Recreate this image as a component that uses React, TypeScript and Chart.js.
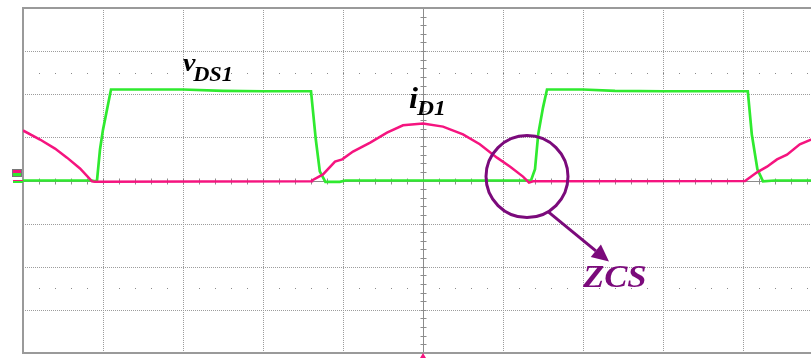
import React, { useEffect, useRef } from "react";
import { Chart, registerables } from "chart.js";

Chart.register(...registerables);

// Time axis in divisions (10 across), amplitude in divisions (±4).
const vdsTime = [0, 0.5, 0.86, 0.9, 0.925, 0.9625, 1.0, 1.1, 2.0, 2.5, 3.0, 3.6, 3.66, 3.71, 3.78, 3.96, 4.03, 6.35, 6.4, 6.44, 6.5, 6.55, 7.0, 7.4, 8.0, 9.06, 9.11, 9.18, 9.25, 9.4, 10];
const vdsLevel = [0, 0, 0, -0.02, 0, 0.72, 1.18, 2.11, 2.11, 2.08, 2.07, 2.07, 0.95, 0.21, -0.03, -0.03, 0, 0, 0.26, 1.07, 1.69, 2.11, 2.11, 2.08, 2.07, 2.07, 1.07, 0.26, -0.02, 0, 0];

const idTime = [0, 0.2125, 0.4, 0.55, 0.7125, 0.8625, 0.9, 3.6, 3.6125, 3.75, 3.9, 3.99, 4.125, 4.34, 4.55, 4.75, 5.0, 5.25, 5.5, 5.71, 5.925, 6.09, 6.25, 6.325, 6.375, 9.025, 9.175, 9.3, 9.425, 9.55, 9.71, 9.85, 10];
const idLevel = [1.16, 0.95, 0.74, 0.53, 0.28, -0.02, -0.03, -0.02, 0, 0.14, 0.44, 0.49, 0.67, 0.88, 1.11, 1.28, 1.32, 1.25, 1.07, 0.84, 0.53, 0.32, 0.09, -0.05, -0.02, -0.01, 0.19, 0.32, 0.49, 0.6, 0.84, 0.95, 1.08];

const xDivisions = [0, 1, 2, 3, 4, 5, 6, 7, 8, 9, 10];
const yDivisions = [-4, -3, -2, -1, 0, 1, 2, 3, 4];
const dottedRows = [2.5, -2.5];

// Annotation anchors (time div, amplitude div)
const vdsLabelPos = [2.0, 2.53];
const idLabelPos = [4.825, 1.69];
const zcsCircle = [6.3, 0.09];
const zcsArrowFrom = [6.5625, -0.72];
const zcsArrowTo = [7.325, -1.88];
const zcsLabelPos = [7.0, -2.46];

const GREEN = "#2fea2f";
const PINK = "#f5147f";
const PURPLE = "#7b0a7b";
const GRID = "#9c9c9c";
const FRAME = "#9a9a9a";
const SERIF = "'Liberation Serif', 'Times New Roman', serif";

const toPoints = (xs: number[], ys: number[]) => xs.map((x, i) => ({ x, y: ys[i] }));

const scopeGrid = {
  id: "scopeGrid",
  beforeDatasetsDraw(chart: any) {
    const { ctx, chartArea } = chart;
    const xs = chart.scales.x;
    const ys = chart.scales.y;
    ctx.save();
    // dotted division lines
    ctx.strokeStyle = GRID;
    ctx.lineWidth = 1;
    ctx.setLineDash([1, 1]);
    xDivisions.forEach((d) => {
      if (d === 0 || d === 5) return;
      const px = Math.round(xs.getPixelForValue(d)) + 0.5;
      ctx.beginPath();
      ctx.moveTo(px, chartArea.top);
      ctx.lineTo(px, chartArea.bottom);
      ctx.stroke();
    });
    yDivisions.forEach((d) => {
      if (d === 4 || d === -4 || d === 0) return;
      const py = Math.round(ys.getPixelForValue(d)) + 0.5;
      ctx.beginPath();
      ctx.moveTo(chartArea.left, py);
      ctx.lineTo(chartArea.right, py);
      ctx.stroke();
    });
    ctx.setLineDash([]);
    // sparse dotted rows
    ctx.fillStyle = "#8a8a8a";
    dottedRows.forEach((r) => {
      const py = Math.round(ys.getPixelForValue(r));
      for (let t = 0.2; t < 10; t += 0.2) {
        const px = Math.round(xs.getPixelForValue(t));
        ctx.fillRect(px, py, 1, 1);
      }
    });
    // centre axes with minor ticks
    ctx.strokeStyle = "#8c8c8c";
    ctx.lineWidth = 1;
    const cx = Math.round(xs.getPixelForValue(5)) + 0.5;
    const cy = Math.round(ys.getPixelForValue(0)) + 0.5;
    ctx.beginPath();
    ctx.moveTo(cx, chartArea.top);
    ctx.lineTo(cx, chartArea.bottom);
    ctx.moveTo(chartArea.left, cy);
    ctx.lineTo(chartArea.right, cy);
    ctx.stroke();
    ctx.beginPath();
    for (let v = -4; v <= 4.001; v += 0.2) {
      const py = Math.round(ys.getPixelForValue(v)) + 0.5;
      ctx.moveTo(cx - 3, py);
      ctx.lineTo(cx + 3, py);
    }
    for (let t = 0; t <= 10.001; t += 0.2) {
      const px = Math.round(xs.getPixelForValue(t)) + 0.5;
      ctx.moveTo(px, cy - 3);
      ctx.lineTo(px, cy + 3);
    }
    ctx.stroke();
    // solid frame
    ctx.strokeStyle = FRAME;
    ctx.lineWidth = 2;
    ctx.strokeRect(chartArea.left, chartArea.top, chartArea.right - chartArea.left, chartArea.bottom - chartArea.top);
    ctx.restore();
  },
  afterDraw(chart: any) {
    const { ctx, chartArea } = chart;
    const xs = chart.scales.x;
    const ys = chart.scales.y;
    ctx.save();
    // channel ground marker on the left
    const gy = Math.round(ys.getPixelForValue(0));
    const lx = chartArea.left;
    ctx.fillStyle = PINK;
    ctx.fillRect(lx - 10, gy - 11, 8, 3);
    ctx.fillStyle = GREEN;
    ctx.fillRect(lx - 10, gy - 8, 8, 3);
    ctx.strokeStyle = "#777";
    ctx.lineWidth = 1;
    ctx.strokeRect(lx - 10.5, gy - 11.5, 9, 7);
    ctx.fillStyle = PINK;
    ctx.fillRect(lx - 10, gy - 1, 10, 1);
    ctx.fillStyle = GREEN;
    ctx.fillRect(lx - 10, gy, 10, 2);
    // trigger marker at bottom centre
    const tx = xs.getPixelForValue(5);
    ctx.fillStyle = PINK;
    ctx.beginPath();
    ctx.moveTo(tx, chartArea.bottom);
    ctx.lineTo(tx - 3, chartArea.bottom + 5);
    ctx.lineTo(tx + 3, chartArea.bottom + 5);
    ctx.closePath();
    ctx.fill();

    // labels with subscripts
    const label = (pos: number[], main: string, sub: string, mainSize: number, subSize: number, subDx: number, subDy: number) => {
      const px = xs.getPixelForValue(pos[0]);
      const py = ys.getPixelForValue(pos[1]);
      ctx.fillStyle = "#000";
      ctx.font = `italic bold ${mainSize}px ${SERIF}`;
      ctx.save();
      ctx.translate(px, py);
      ctx.scale(1.12, 1);
      ctx.fillText(main, 0, 0);
      const w = ctx.measureText(main).width;
      ctx.font = `italic bold ${subSize}px ${SERIF}`;
      ctx.fillText(sub, w + subDx, subDy);
      ctx.restore();
    };
    ctx.textBaseline = "alphabetic";
    label(vdsLabelPos, "v", "DS1", 25, 20, -2, 10);
    label(idLabelPos, "i", "D1", 29, 21, -1, 7);

    // ZCS circle and arrow
    ctx.strokeStyle = PURPLE;
    ctx.fillStyle = PURPLE;
    ctx.lineWidth = 3;
    ctx.beginPath();
    ctx.arc(xs.getPixelForValue(zcsCircle[0]), ys.getPixelForValue(zcsCircle[1]), 41, 0, Math.PI * 2);
    ctx.stroke();
    const ax = xs.getPixelForValue(zcsArrowFrom[0]);
    const ay = ys.getPixelForValue(zcsArrowFrom[1]);
    const bx = xs.getPixelForValue(zcsArrowTo[0]);
    const by = ys.getPixelForValue(zcsArrowTo[1]);
    const ang = Math.atan2(by - ay, bx - ax);
    const head = 17;
    const hx = bx - head * Math.cos(ang);
    const hy = by - head * Math.sin(ang);
    ctx.beginPath();
    ctx.moveTo(ax, ay);
    ctx.lineTo(hx, hy);
    ctx.stroke();
    ctx.beginPath();
    ctx.moveTo(bx, by);
    ctx.lineTo(hx + 8 * Math.sin(ang), hy - 8 * Math.cos(ang));
    ctx.lineTo(hx - 8 * Math.sin(ang), hy + 8 * Math.cos(ang));
    ctx.closePath();
    ctx.fill();
    ctx.font = `italic bold 31px ${SERIF}`;
    ctx.save();
    ctx.translate(xs.getPixelForValue(zcsLabelPos[0]), ys.getPixelForValue(zcsLabelPos[1]));
    ctx.scale(1.12, 1);
    ctx.fillText("ZCS", 0, 0);
    ctx.restore();
    ctx.restore();
  },
};

export default function App() {
  const ref = useRef<HTMLCanvasElement | null>(null);
  useEffect(() => {
    if (!ref.current) return;
    const chart = new Chart(ref.current, {
      type: "line",
      data: {
        datasets: [
          {
            label: "iD1",
            data: toPoints(idTime, idLevel),
            borderColor: PINK,
            borderWidth: 2.5,
            pointRadius: 0,
            tension: 0,
          },
          {
            label: "vDS1",
            data: toPoints(vdsTime, vdsLevel),
            borderColor: GREEN,
            borderWidth: 2.7,
            pointRadius: 0,
            tension: 0,
          },
        ],
      },
      options: {
        animation: false,
        responsive: false,
        devicePixelRatio: 1,
        layout: { padding: { left: 23, top: 8, right: 17, bottom: 5 } },
        plugins: { legend: { display: false }, tooltip: { enabled: false } },
        scales: {
          x: { type: "linear", min: 0, max: 10, display: false },
          y: { type: "linear", min: -4, max: 4, display: false },
        },
      },
      plugins: [scopeGrid],
    });
    return () => chart.destroy();
  }, []);
  return (
    <div style={{ position: "fixed", left: 0, top: 0, width: 811, height: 358, overflow: "hidden", background: "#fff" }}>
      <canvas ref={ref} width={840} height={358} style={{ display: "block" }} />
    </div>
  );
}
